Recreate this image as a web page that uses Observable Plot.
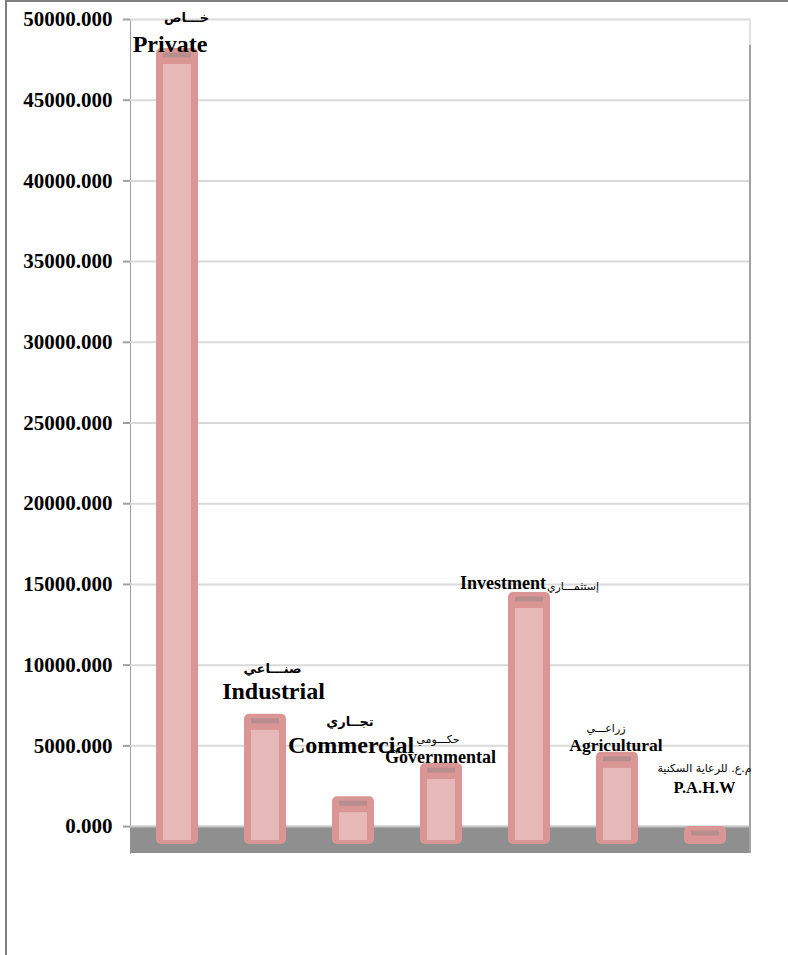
<!DOCTYPE html>
<html><head><meta charset="utf-8">
<script src="https://cdn.jsdelivr.net/npm/d3@7"></script>
<script src="https://cdn.jsdelivr.net/npm/@observablehq/plot@0.6"></script>
<style>
html,body{margin:0;padding:0;background:#fff;}
#wrap{position:relative;width:788px;height:955px;overflow:hidden;}
#border{position:absolute;left:5px;top:0;width:783px;height:955px;border-top:2px solid #7f7f7f;border-left:2px solid #7f7f7f;box-sizing:border-box;pointer-events:none;}
#chart{position:absolute;left:0;top:0;}
#chart svg g[aria-label^="y-axis"] text{font-family:"Liberation Serif",serif;font-weight:bold;font-size:21px;fill:#000;}
#chart svg g[aria-label^="y-axis"] path, #chart svg g[aria-label^="y-axis"] line{stroke:#a0a0a0;stroke-width:2px;}
</style></head>
<body><div id="wrap"><div id="chart"></div><div id="border"></div></div>
<script>
// ---- data ----
const categories = ["Private", "Industrial", "Commercial", "Governmental", "Investment", "Agricultural", "P.A.H.W"];
const arabicLabels = ["خـــاص", "صنـــاعي", "تجــاري", "حكـــومي", "إستثمـــاري", "زراعـــي", "م.ع. للرعاية السكنية"];
const values = [48200, 6950, 1850, 3900, 14500, 4600, 0];
const yTicks = [0, 5000, 10000, 15000, 20000, 25000, 30000, 35000, 40000, 45000, 50000];

// ---- layout (3D floor depth and label placement) ----
const floorBottom = -1670;
const barBase = -1115;
const enDx = [-7.5, 8, -2.5, -1, -26.5, -1.5, -1];
const enDy = [3, -15, -44, -1, -4, -1, -34];
const enSize = [24, 24, 24, 18, 18, 17.5, 16.5];
const arDx = [9, 7, -3.5, -3.5, 43.5, -11.5, -1];
const arDy = [-30.5, -45.5, -75, -24, -6, -24, -58];
const arSize = [13, 13, 13, 11, 11, 11, 11];
const arWeight = ["bold", "bold", "bold", "normal", "normal", "normal", "normal"];

const data = categories.map((c, i) => ({category: c, value: values[i], arabic: arabicLabels[i], i}));

const W = 788, H = 955, mL = 130, mR = 37, mT = 19, mB = 102;

const labelMarks = [];
data.forEach((d, i) => {
  labelMarks.push(Plot.text([d], {
    x: "category", y: "value", text: "category",
    dx: enDx[i], dy: enDy[i], lineAnchor: "bottom", textAnchor: "middle",
    fill: "#000", fontSize: enSize[i], fontWeight: "bold", fontFamily: "Liberation Serif"
  }));
  labelMarks.push(Plot.text([d], {
    x: "category", y: "value", text: "arabic",
    dx: arDx[i], dy: arDy[i], lineAnchor: "middle", textAnchor: "middle",
    fill: "#000", fontSize: arSize[i], fontWeight: arWeight[i], fontFamily: "DejaVu Sans"
  }));
});

const chart = Plot.plot({
  width: W, height: H,
  marginLeft: mL, marginRight: mR, marginTop: mT, marginBottom: mB,
  style: {background: "transparent", color: "#a0a0a0", overflow: "visible"},
  x: {type: "band", domain: categories, paddingInner: 0.5265, paddingOuter: 0.263, axis: null},
  y: {domain: [floorBottom, 50000], ticks: yTicks, tickFormat: d3.format(".3f"), tickSize: 7, tickPadding: 11, line: true, label: null},
  marks: [
    Plot.ruleY(yTicks.filter(t => t > 0), {stroke: "#d9d9d9", strokeWidth: 2}),
    Plot.rect([0], {y1: floorBottom, y2: 0, fill: "#8f8f8f"}),
    Plot.ruleY([0], {stroke: "#c4c4c4", strokeWidth: 2}),
    Plot.rect([0], {y1: floorBottom, y2: 50000, insetLeft: W - mL - mR - 2, fill: "#a3a3a3"}),
    Plot.rect([0], {y1: 48400, y2: 50000, insetLeft: W - mL - mR - 2, fill: "#e2e2e2"}),
    Plot.barY(data, {x: "category", y1: barBase, y2: "value", fill: "#d99694", rx: 5}),
    Plot.barY(data.filter(d => d.value > 1000), {x: "category", y1: barBase, y2: "value", fill: "#e6b9b8",
      insetLeft: 7, insetRight: 7, insetTop: 16, insetBottom: 4}),
    Plot.tickY(data, {x: "category", y: "value", dy: 6.5, stroke: "#b88d8d", strokeWidth: 5, insetLeft: 7, insetRight: 7}),
    ...labelMarks
  ]
});
document.getElementById("chart").appendChild(chart);
</script>
</body></html>
